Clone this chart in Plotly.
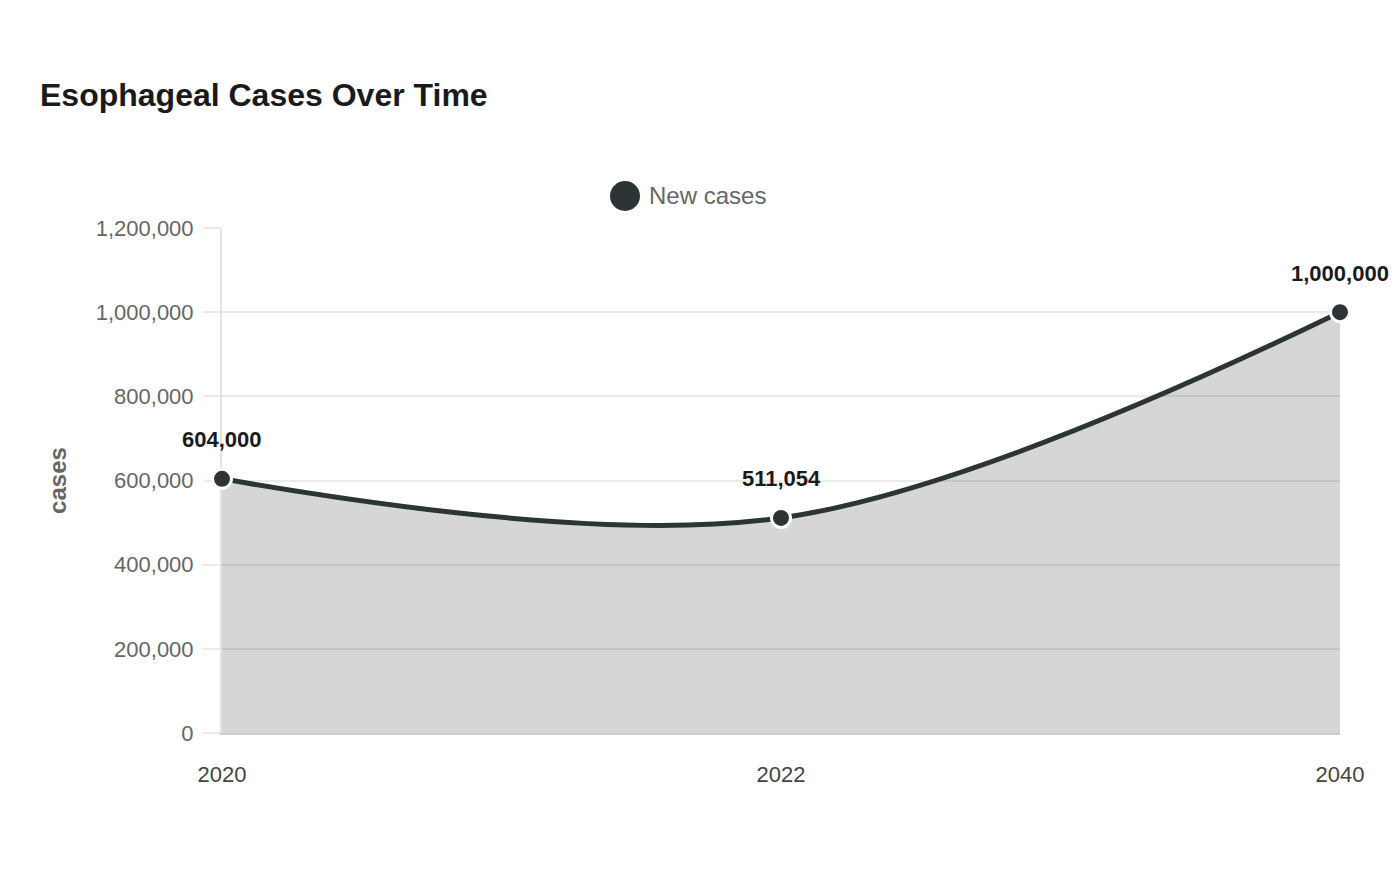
import plotly.graph_objects as go

years = ["2020", "2022", "2040"]
cases = [604000, 511054, 1000000]
label_texts = ["604,000", "511,054", "1,000,000"]
y_ticks = [0, 200000, 400000, 600000, 800000, 1000000, 1200000]
y_tick_labels = ["0", "200,000", "400,000", "600,000", "800,000", "1,000,000", "1,200,000"]

LINE = "#2d3436"
FONT = "Liberation Sans, Arial, sans-serif"

fig = go.Figure()
fig.add_trace(go.Scatter(
    x=years, y=cases, mode="lines+markers", name="New cases",
    line=dict(color=LINE, width=5, shape="spline", smoothing=1.0),
    marker=dict(size=19, color=LINE, line=dict(color="white", width=3)),
    fill="tozeroy", fillcolor="rgba(0,0,0,0.16)",
    cliponaxis=False, showlegend=False,
))

for i, (y, t) in enumerate(zip(cases, label_texts)):
    fig.add_annotation(x=i, y=y, xref="x", yref="y", text=f"<b>{t}</b>", showarrow=False,
                       yshift=39, font=dict(size=22, color="#1a1a1a", family=FONT))

fig.update_layout(
    width=1400, height=880,
    margin=dict(l=222, r=60, t=228, b=147),
    paper_bgcolor="white", plot_bgcolor="white",
    title=dict(text="<b>Esophageal Cases Over Time</b>", x=40 / 1400, xanchor="left",
               y=1 - 95 / 880, yanchor="middle",
               font=dict(size=32, color="#1a1a1a", family=FONT)),
    font=dict(family=FONT),
    showlegend=False,
    xaxis=dict(type="category", range=[0, 2], showgrid=False,
               showline=True, linecolor="#cccccc", linewidth=2, layer="below traces",
               ticks="outside", ticklen=21, tickcolor="rgba(0,0,0,0)",
               tickfont=dict(size=22, color="#444444", family=FONT), zeroline=False),
    yaxis=dict(range=[0, 1200000], tickvals=y_ticks, ticktext=y_tick_labels,
               showgrid=True, gridcolor="#ebebeb", gridwidth=2,
               showline=True, linecolor="#e3e3e3", linewidth=2, layer="below traces",
               ticks="outside", ticklen=17, tickcolor="#ebebeb", tickwidth=2,
               ticklabelstandoff=5,
               tickfont=dict(size=22, color="#666666", family=FONT), zeroline=False,
               title=dict(text="<b>cases</b>", standoff=22,
                          font=dict(size=24, color="#666666", family=FONT))),
)

# legend drawn in paper coordinates
cy = 1 + (228 - 196) / 505
fig.add_shape(type="circle", xref="paper", yref="paper",
              x0=(610 - 222) / 1118, x1=(640 - 222) / 1118,
              y0=cy - 15 / 505, y1=cy + 15 / 505,
              fillcolor=LINE, line=dict(width=0))
fig.add_annotation(xref="paper", yref="paper", x=(647 - 222) / 1118, y=cy,
                   text="New cases", showarrow=False, xanchor="left", yanchor="middle",
                   font=dict(size=24, color="#666666", family=FONT))

fig.write_html("out.html")
